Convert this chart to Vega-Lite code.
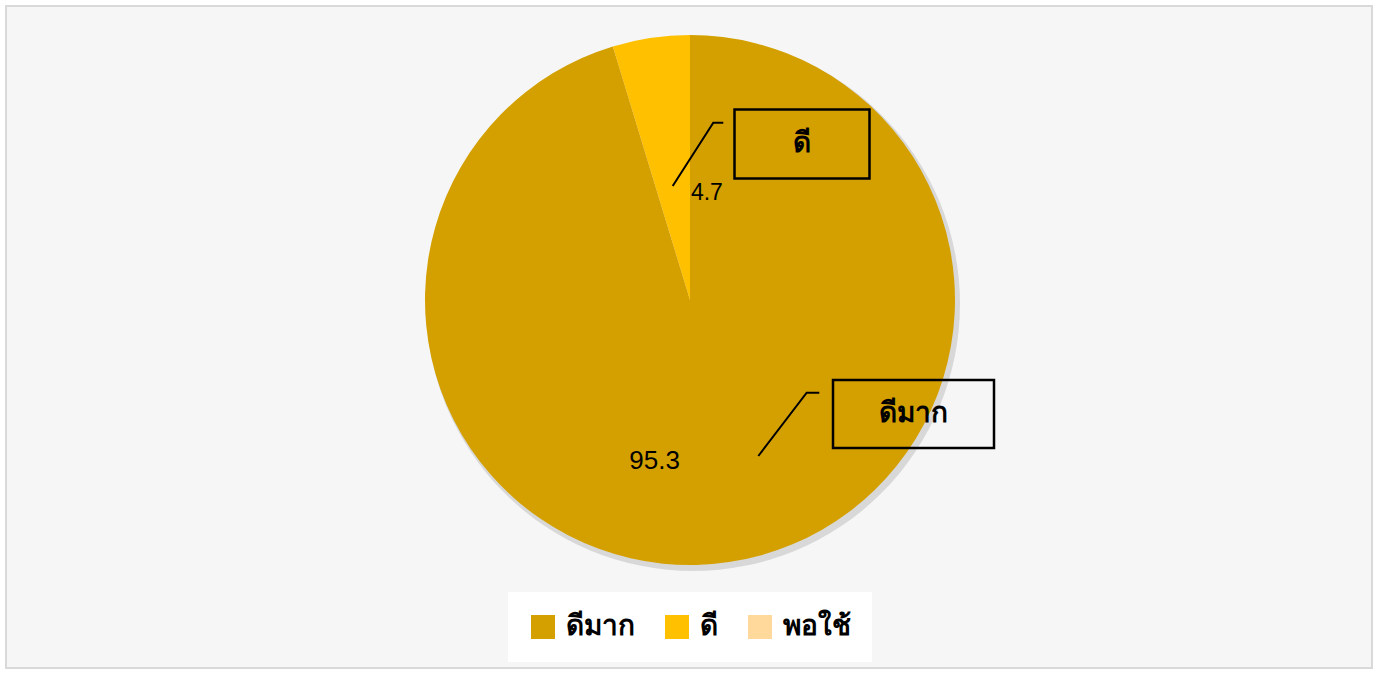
{
  "$schema": "https://vega.github.io/schema/vega-lite/v6.json",
  "width": 1366,
  "height": 662,
  "padding": {"left": 6, "top": 6, "right": 9, "bottom": 5},
  "autosize": {"type": "none"},
  "background": "#ffffff",
  "config": {
    "view": {"fill": "#f6f6f6", "stroke": "#d9d9d9", "strokeWidth": 2},
    "font": "Liberation Sans"
  },
  "datasets": {
    "scores": [
      {"category": "ดีมาก", "value": 95.3, "order": 1},
      {"category": "ดี", "value": 4.7, "order": 2},
      {"category": "พอใช้", "value": 0, "order": 3}
    ],
    "leaders": [
      {"id": "a", "k": 0, "x": 666.7, "y": 180},
      {"id": "a", "k": 1, "x": 707.3, "y": 116.7},
      {"id": "a", "k": 2, "x": 717.3, "y": 116.7},
      {"id": "b", "k": 0, "x": 752.3, "y": 450},
      {"id": "b", "k": 1, "x": 800.7, "y": 386.7},
      {"id": "b", "k": 2, "x": 813.3, "y": 386.7}
    ],
    "callouts": [
      {"label": "ดี", "x1": 728.5, "x2": 863.5, "y1": 103.5, "y2": 172.5, "cx": 796, "cy": 138},
      {"label": "ดีมาก", "x1": 827, "x2": 988, "y1": 374, "y2": 442, "cx": 907.5, "cy": 408}
    ]
  },
  "layer": [
    {
      "data": {"values": [{"s": 1}]},
      "mark": {"type": "arc", "outerRadius": 267, "theta": 0, "theta2": 6.2832, "color": "#000000", "opacity": 0.12, "xOffset": 4, "yOffset": -33},
      "encoding": {}
    },
    {
      "data": {"name": "scores"},
      "mark": {"type": "arc", "outerRadius": 265, "xOffset": 1, "yOffset": -37},
      "encoding": {
        "theta": {"field": "value", "type": "quantitative", "stack": true},
        "order": {"field": "order", "type": "quantitative"},
        "color": {
          "field": "category",
          "type": "nominal",
          "sort": ["ดีมาก", "ดี", "พอใช้"],
          "scale": {"domain": ["ดีมาก", "ดี", "พอใช้"], "range": ["#d4a000", "#ffc000", "#ffd89b"]},
          "legend": {
            "title": null,
            "orient": "none",
            "legendX": 502,
            "legendY": 586,
            "direction": "horizontal",
            "fillColor": "#ffffff",
            "padding": 21,
            "symbolType": "square",
            "symbolSize": 576,
            "symbolStrokeWidth": 0,
            "labelFontSize": 28,
            "labelFontWeight": "bold",
            "labelColor": "#000000",
            "labelOffset": 9,
            "columnPadding": 28
          }
        }
      }
    },
    {
      "data": {"name": "scores"},
      "transform": [{"filter": "datum.category === 'ดีมาก'"}],
      "mark": {"type": "text", "radius": 160, "fontSize": 26, "color": "#000000", "align": "center", "baseline": "middle", "dx": -58, "dy": -34},
      "encoding": {
        "theta": {"field": "value", "type": "quantitative", "stack": true},
        "order": {"field": "order", "type": "quantitative"},
        "text": {"field": "value", "type": "quantitative", "format": ".1f"}
      }
    },
    {
      "data": {"name": "scores"},
      "transform": [{"filter": "datum.category === 'ดี'"}],
      "mark": {"type": "text", "radius": 108, "fontSize": 23, "color": "#000000", "align": "center", "baseline": "middle", "dx": 2, "dy": -37},
      "encoding": {
        "theta": {"field": "value", "type": "quantitative", "stack": true},
        "order": {"field": "order", "type": "quantitative"},
        "text": {"field": "value", "type": "quantitative", "format": ".1f"}
      }
    },
    {
      "data": {"name": "leaders"},
      "mark": {"type": "line", "color": "#000000", "strokeWidth": 2, "interpolate": "linear"},
      "encoding": {
        "x": {"field": "x", "type": "quantitative", "scale": {"domain": [0, 1366], "nice": false, "zero": false}, "axis": null},
        "y": {"field": "y", "type": "quantitative", "scale": {"domain": [0, 662], "nice": false, "zero": false, "reverse": true}, "axis": null},
        "detail": {"field": "id", "type": "nominal"},
        "order": {"field": "k", "type": "quantitative"}
      }
    },
    {
      "data": {"name": "callouts"},
      "mark": {"type": "rect", "fillOpacity": 0, "stroke": "#000000", "strokeWidth": 2.5},
      "encoding": {
        "x": {"field": "x1", "type": "quantitative"},
        "x2": {"field": "x2"},
        "y": {"field": "y1", "type": "quantitative"},
        "y2": {"field": "y2"}
      }
    },
    {
      "data": {"name": "callouts"},
      "mark": {"type": "text", "fontSize": 28, "fontWeight": "bold", "color": "#000000", "align": "center", "baseline": "middle"},
      "encoding": {
        "x": {"field": "cx", "type": "quantitative"},
        "y": {"field": "cy", "type": "quantitative"},
        "text": {"field": "label", "type": "nominal"}
      }
    }
  ]
}
